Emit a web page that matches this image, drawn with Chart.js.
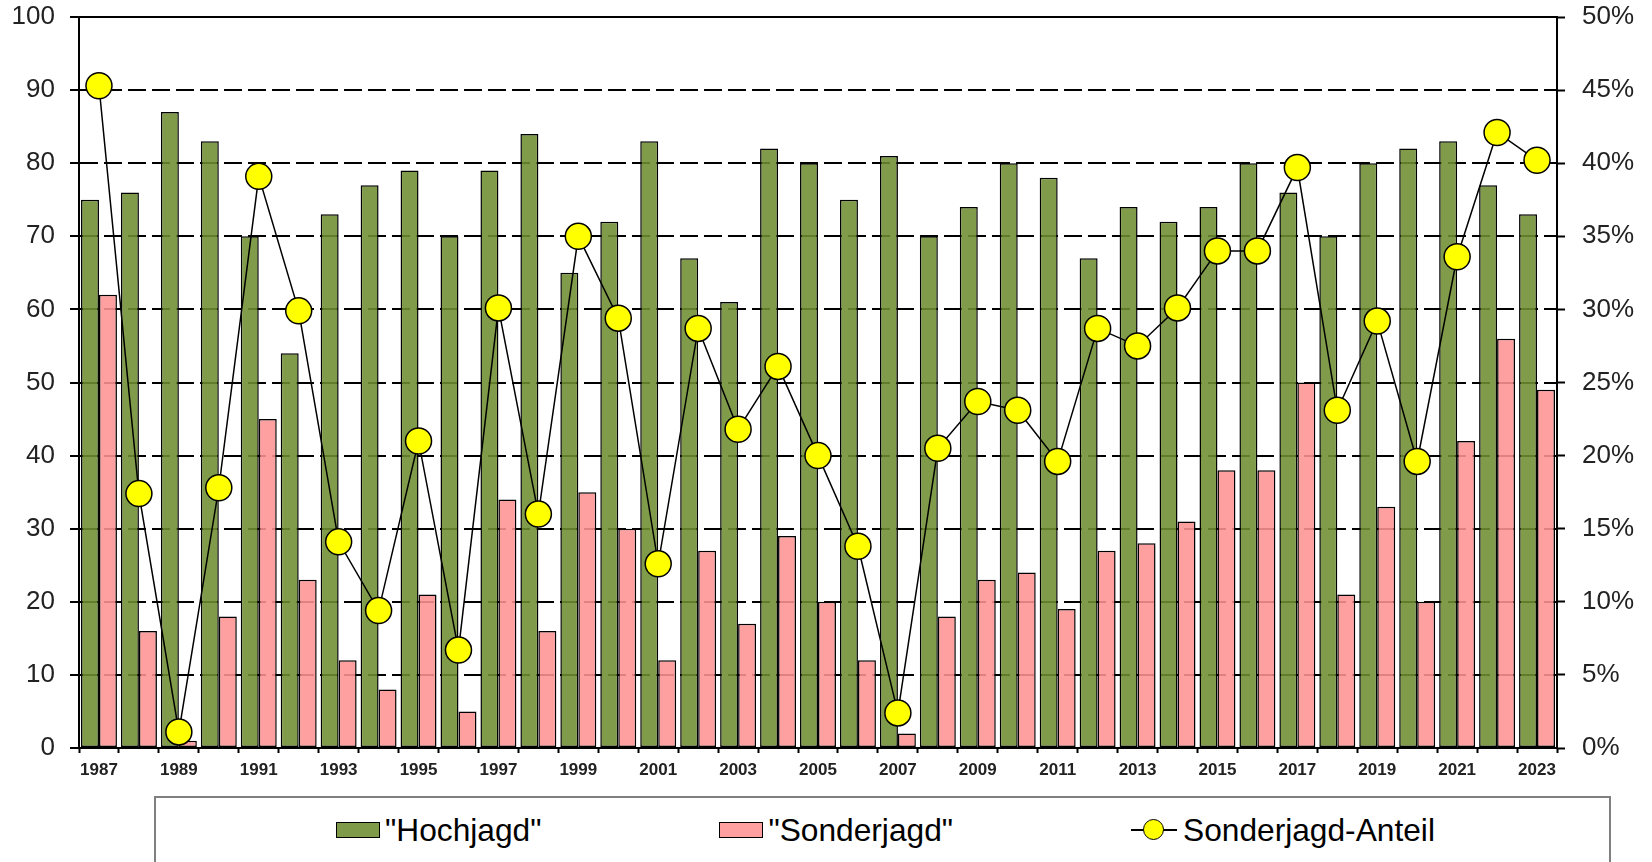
<!DOCTYPE html>
<html>
<head>
<meta charset="utf-8">
<script src="https://cdn.jsdelivr.net/npm/chart.js@4"></script>
<style>
  body { margin: 0; background: #fff; overflow: hidden; }
  #wrap { position: relative; width: 1652px; height: 862px; }
  #chart { position: absolute; left: 0; top: 0; }
  #legend {
    position: absolute; left: 154px; top: 796px; width: 1453px; height: 90px;
    border: 2px solid #808080; background: #fff;
    font-family: "Liberation Sans", Arial, sans-serif; font-size: 31.7px; color: #000;
  }
  #legend ul {
    list-style: none; margin: 0; padding: 0 0 0 6px; position: absolute; top: 16px; left: 0; right: 0;
    display: flex; justify-content: center; align-items: center; gap: 178px; height: 32px;
  }
  #legend li { display: flex; align-items: center; white-space: nowrap; }
  .box { width: 42px; height: 14px; border: 1.5px solid #000; margin-right: 5px; }
  .lineicon { position: relative; width: 46px; height: 24px; margin-right: 6px; }
  .lineicon .l { position: absolute; left: 0; right: 0; top: 11px; height: 1.5px; background: #000; }
  .lineicon .c { position: absolute; left: 12px; top: 1px; width: 19px; height: 19px; border: 1.5px solid #000; border-radius: 50%; }
</style>
</head>
<body>
<div id="wrap">
  <canvas id="chart" width="1652" height="862"></canvas>
  <div id="legend"></div>
</div>
<script>
const years = ["1987","1988","1989","1990","1991","1992","1993","1994","1995","1996",
  "1997","1998","1999","2000","2001","2002","2003","2004","2005","2006",
  "2007","2008","2009","2010","2011","2012","2013","2014","2015","2016",
  "2017","2018","2019","2020","2021","2022","2023"];

const hochjagd = [75, 76, 87, 83, 70, 54, 73, 77, 79, 70,
  79, 84, 65, 72, 83, 67, 61, 82, 80, 75,
  81, 70, 74, 80, 78, 67, 74, 72, 74, 80,
  76, 70, 80, 82, 83, 77, 73];

const sonderjagd = [62, 16, 1, 18, 45, 23, 12, 8, 21, 5,
  34, 16, 35, 30, 12, 27, 17, 29, 20, 12,
  2, 18, 23, 24, 19, 27, 28, 31, 38, 38,
  50, 21, 33, 20, 42, 56, 49];

// Sonderjagd-Anteil in %
const anteil = [45.3, 17.4, 1.1, 17.8, 39.1, 29.9, 14.1, 9.4, 21.0, 6.7,
  30.1, 16.0, 35.0, 29.4, 12.6, 28.7, 21.8, 26.1, 20.0, 13.8,
  2.4, 20.5, 23.7, 23.1, 19.6, 28.7, 27.5, 30.1, 34.0, 34.0,
  39.7, 23.1, 29.2, 19.6, 33.6, 42.1, 40.2];

const leftTicks = [0, 10, 20, 30, 40, 50, 60, 70, 80, 90, 100];
const rightTicks = [0, 5, 10, 15, 20, 25, 30, 35, 40, 45, 50];

const FONT = "'Liberation Sans', Arial, sans-serif";

const topLine = {
  id: "topLine",
  beforeDatasetsDraw(chart) {
    const { ctx, chartArea } = chart;
    ctx.save();
    ctx.strokeStyle = "#000";
    ctx.lineWidth = 2;
    ctx.beginPath();
    ctx.moveTo(chartArea.left, chartArea.top);
    ctx.lineTo(chartArea.right, chartArea.top);
    ctx.stroke();
    ctx.restore();
  },
};

const htmlLegend = {
  id: "htmlLegend",
  afterUpdate(chart) {
    const el = document.getElementById("legend");
    el.innerHTML = "";
    const ul = document.createElement("ul");
    chart.data.datasets.forEach((ds) => {
      const li = document.createElement("li");
      let icon;
      if (ds.type === "line") {
        icon = document.createElement("span");
        icon.className = "lineicon";
        icon.innerHTML = '<span class="l"></span><span class="c"></span>';
        icon.querySelector(".c").style.background = ds.pointBackgroundColor;
      } else {
        icon = document.createElement("span");
        icon.className = "box";
        icon.style.background = ds.legendColor;
      }
      const txt = document.createElement("span");
      txt.textContent = ds.label;
      li.appendChild(icon);
      li.appendChild(txt);
      ul.appendChild(li);
    });
    el.appendChild(ul);
  },
};

// y axes: fixed width, no extra top/bottom padding for the labels
function fitY(width) {
  return (s) => {
    s.width = width;
    s.paddingTop = 0;
    s.paddingBottom = 0;
  };
}

const ctx = document.getElementById("chart").getContext("2d");

new Chart(ctx, {
  data: {
    labels: years,
    datasets: [
      {
        type: "bar",
        label: '"Hochjagd"',
        data: hochjagd,
        yAxisID: "y",
        backgroundColor: "rgba(110, 141, 49, 0.88)",
        legendColor: "#7F9B4A",
        borderColor: "#000",
        borderWidth: 1.5,
        borderSkipped: false,
        categoryPercentage: 0.9,
        barPercentage: 1.0,
        order: 1,
      },
      {
        type: "bar",
        label: '"Sonderjagd"',
        data: sonderjagd,
        yAxisID: "y",
        backgroundColor: "rgba(255, 147, 147, 0.88)",
        legendColor: "#FFA0A0",
        borderColor: "#000",
        borderWidth: 1.5,
        borderSkipped: false,
        categoryPercentage: 0.9,
        barPercentage: 1.0,
        order: 2,
      },
      {
        type: "line",
        label: "Sonderjagd-Anteil",
        data: anteil,
        yAxisID: "y1",
        borderColor: "#000",
        borderWidth: 1.5,
        tension: 0,
        pointRadius: 13,
        pointBackgroundColor: "#FFFF00",
        pointBorderColor: "#000",
        pointBorderWidth: 1.5,
        clip: false,
        order: 0,
      },
    ],
  },
  options: {
    responsive: false,
    animation: false,
    layout: { padding: { top: 17, left: 0, right: 0, bottom: 0 } },
    plugins: {
      legend: { display: false },
      tooltip: { enabled: false },
    },
    scales: {
      x: {
        offset: true,
        grid: {
          offset: true,
          drawOnChartArea: false,
          drawTicks: true,
          tickLength: 5,
          tickColor: "#000",
          tickWidth: 2,
        },
        border: { display: true, color: "#000", width: 2 },
        ticks: {
          autoSkip: false,
          maxRotation: 0,
          padding: 7,
          color: "#222",
          font: { family: FONT, size: 17, weight: "bold" },
          callback: (v, i) => (i % 2 === 0 ? years[i] : ""),
        },
        afterFit: (s) => {
          s.height = 114;
          s.paddingLeft = 0;
          s.paddingRight = 0;
        },
      },
      y: {
        position: "left",
        min: 0,
        max: 100,
        afterBuildTicks: (s) => { s.ticks = leftTicks.map((v) => ({ value: v })); },
        ticks: {
          padding: 15,
          color: "#222",
          font: { family: FONT, size: 26 },
        },
        grid: {
          color: (c) => (c.tick && (c.tick.value === 100 || c.tick.value === 0) ? "rgba(0,0,0,0)" : "#000"),
          lineWidth: 2,
          tickColor: "#000",
          tickLength: 9,
          tickWidth: 2,
          tickBorderDash: [],
        },
        border: { display: true, color: "#000", width: 2, dash: [18, 6] },
        afterFit: fitY(79),
      },
      y1: {
        position: "right",
        min: 0,
        max: 50,
        afterBuildTicks: (s) => { s.ticks = rightTicks.map((v) => ({ value: v })); },
        ticks: {
          padding: 17,
          color: "#222",
          font: { family: FONT, size: 26 },
          callback: (v) => v + "%",
        },
        grid: {
          drawOnChartArea: false,
          tickColor: "#000",
          tickLength: 8,
          tickWidth: 2,
        },
        border: { display: true, color: "#000", width: 2 },
        afterFit: fitY(95),
      },
    },
  },
  plugins: [topLine, htmlLegend],
});
</script>
</body>
</html>
